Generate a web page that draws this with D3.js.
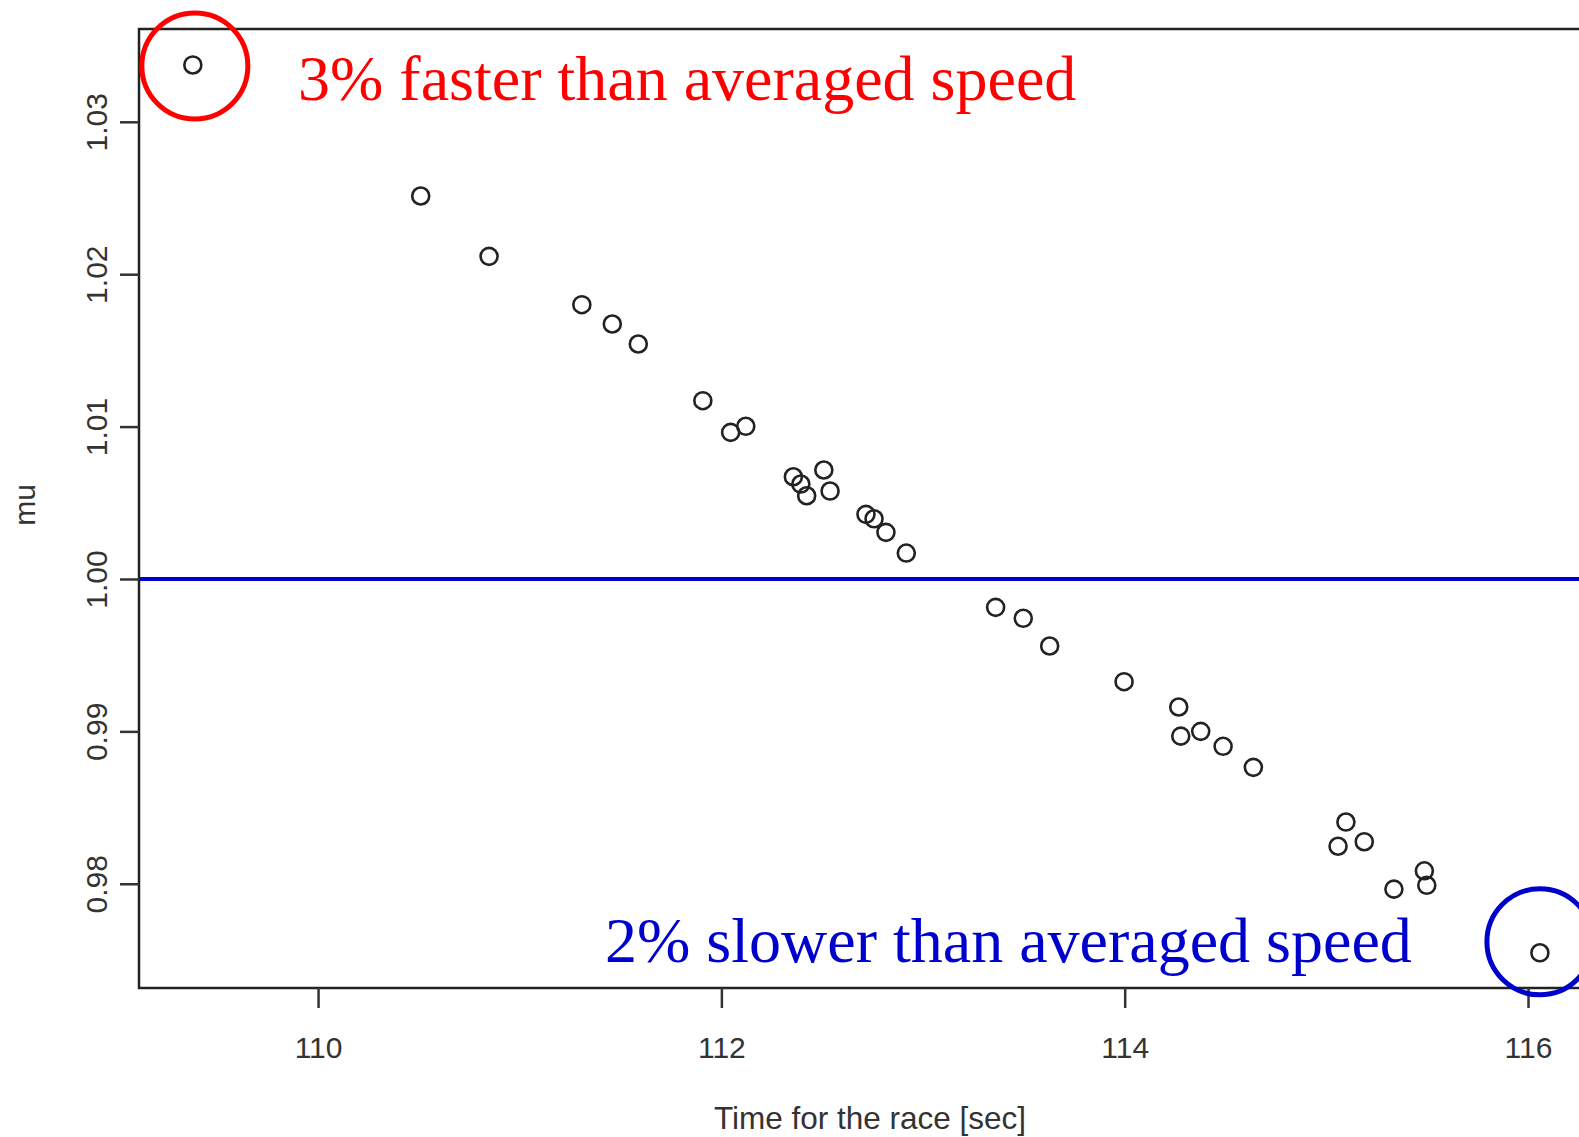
<!DOCTYPE html>
<html lang="en">
  <head>
    <title>mu vs time for the race</title>
    <meta charset="utf-8">
    <script src="https://d3js.org/d3.v7.min.js"></script>
    <style>
      body { margin: 0; background: #fff; }
      .tick text { font-family: "Liberation Sans", Arial, sans-serif; fill: #333; }
      .note { font-family: "Liberation Serif", "Times New Roman", serif; }
    </style>
  </head>

  <body>
    <svg></svg>

    <script>
      // race time [sec] and mu
      const time = [109.379, 110.509, 110.848, 111.308, 111.459, 111.588, 111.908, 112.046,
        112.121, 112.357, 112.394, 112.423, 112.508, 112.539, 112.717, 112.757, 112.816,
        112.917, 113.360, 113.497, 113.628, 113.997, 114.268, 114.278, 114.377, 114.488,
        114.638, 115.097, 115.058, 115.188, 115.335, 115.486, 115.498, 116.059]
      const mu = [1.03373, 1.02513, 1.02117, 1.01800, 1.01673, 1.01542, 1.01170, 1.00962,
        1.01002, 1.00671, 1.00623, 1.00546, 1.00715, 1.00577, 1.00424, 1.00395, 1.00306,
        1.00170, 0.99814, 0.99742, 0.99560, 0.99326, 0.99160, 0.98969, 0.99000, 0.98902,
        0.98764, 0.98405, 0.98246, 0.98276, 0.97965, 0.98085, 0.97990, 0.97547]

      const xTicks = [110, 112, 114, 116]
      const yTicks = [0.98, 0.99, 1.00, 1.01, 1.02, 1.03]
      const reference = 1.00

      const width = 1579
      const height = 1137
      const margin = { left: 139, top: 29, right: -21, bottom: 149 } // the box runs past the right edge

      const svg = d3.select('svg')
        .attr('width', width)
        .attr('height', height)

      const x = d3.scaleLinear()
        .domain([109.112, 116.357])
        .range([margin.left, width - margin.right])

      const y = d3.scaleLinear()
        .domain([0.97316, 1.03609])
        .range([height - margin.bottom, margin.top])

      // reference line mu = 1
      svg.append('line')
        .attr('x1', x.range()[0]).attr('x2', x.range()[1])
        .attr('y1', y(reference)).attr('y2', y(reference))
        .style('stroke', '#0000cc')
        .style('stroke-width', 4)

      // box
      svg.append('rect')
        .attr('x', x.range()[0])
        .attr('y', y.range()[1])
        .attr('width', x.range()[1] - x.range()[0])
        .attr('height', y.range()[0] - y.range()[1])
        .style('fill', 'none')
        .style('stroke', '#222')
        .style('stroke-width', 2.5)

      // x axis
      const gx = svg.append('g')
        .attr('transform', `translate(0, ${y.range()[0]})`)
        .call(d3.axisBottom(x).tickValues(xTicks).tickSize(20).tickFormat(d3.format('d')))
      gx.select('.domain').remove()
      gx.selectAll('.tick line').style('stroke', '#333').style('stroke-width', 2.5)
      gx.selectAll('.tick text')
        .attr('y', 70).attr('dy', 0)
        .style('font-size', '30px')

      // y axis, labels turned on their side
      const gy = svg.append('g')
        .attr('transform', `translate(${x.range()[0]}, 0)`)
        .call(d3.axisLeft(y).tickValues(yTicks).tickSize(19).tickFormat(d3.format('.2f')))
      gy.select('.domain').remove()
      gy.selectAll('.tick line').style('stroke', '#333').style('stroke-width', 2.5)
      gy.selectAll('.tick text')
        .attr('x', 0).attr('dy', 0)
        .attr('text-anchor', 'middle')
        .attr('transform', 'translate(-32, 0) rotate(-90)')
        .style('font-size', '30px')

      // axis titles
      svg.append('text')
        .attr('x', 870).attr('y', 1129)
        .attr('text-anchor', 'middle')
        .style('font-family', '"Liberation Sans", Arial, sans-serif')
        .style('font-size', '31.5px')
        .style('fill', '#333')
        .text('Time for the race [sec]')

      svg.append('text')
        .attr('transform', 'translate(35, 505) rotate(-90)')
        .attr('text-anchor', 'middle')
        .style('font-family', '"Liberation Sans", Arial, sans-serif')
        .style('font-size', '30px')
        .style('fill', '#333')
        .text('mu')

      // points
      svg.append('g')
        .selectAll('circle')
        .data(time)
        .join('circle')
          .attr('cx', d => x(d))
          .attr('cy', (d, i) => y(mu[i]))
          .attr('r', 8.5)
          .style('fill', 'none')
          .style('stroke', '#222')
          .style('stroke-width', 2.6)

      // highlight fastest and slowest
      const iFast = d3.maxIndex(mu)
      const iSlow = d3.minIndex(mu)

      svg.append('circle')
        .attr('cx', x(time[iFast]) + 2)
        .attr('cy', y(mu[iFast]) + 1)
        .attr('r', 53)
        .style('fill', 'none')
        .style('stroke', '#ff0000')
        .style('stroke-width', 5)

      svg.append('circle')
        .attr('cx', x(time[iSlow]))
        .attr('cy', y(mu[iSlow]) - 11)
        .attr('r', 53)
        .style('fill', 'none')
        .style('stroke', '#0000cc')
        .style('stroke-width', 5)

      svg.append('text')
        .classed('note', true)
        .attr('x', 298).attr('y', 100)
        .style('font-size', '64px')
        .style('fill', '#ff0000')
        .text('3% faster than averaged speed')

      svg.append('text')
        .classed('note', true)
        .attr('x', 605).attr('y', 962)
        .style('font-size', '64px')
        .style('fill', '#0000cc')
        .text('2% slower than averaged speed')
    </script>
  </body>
</html>
